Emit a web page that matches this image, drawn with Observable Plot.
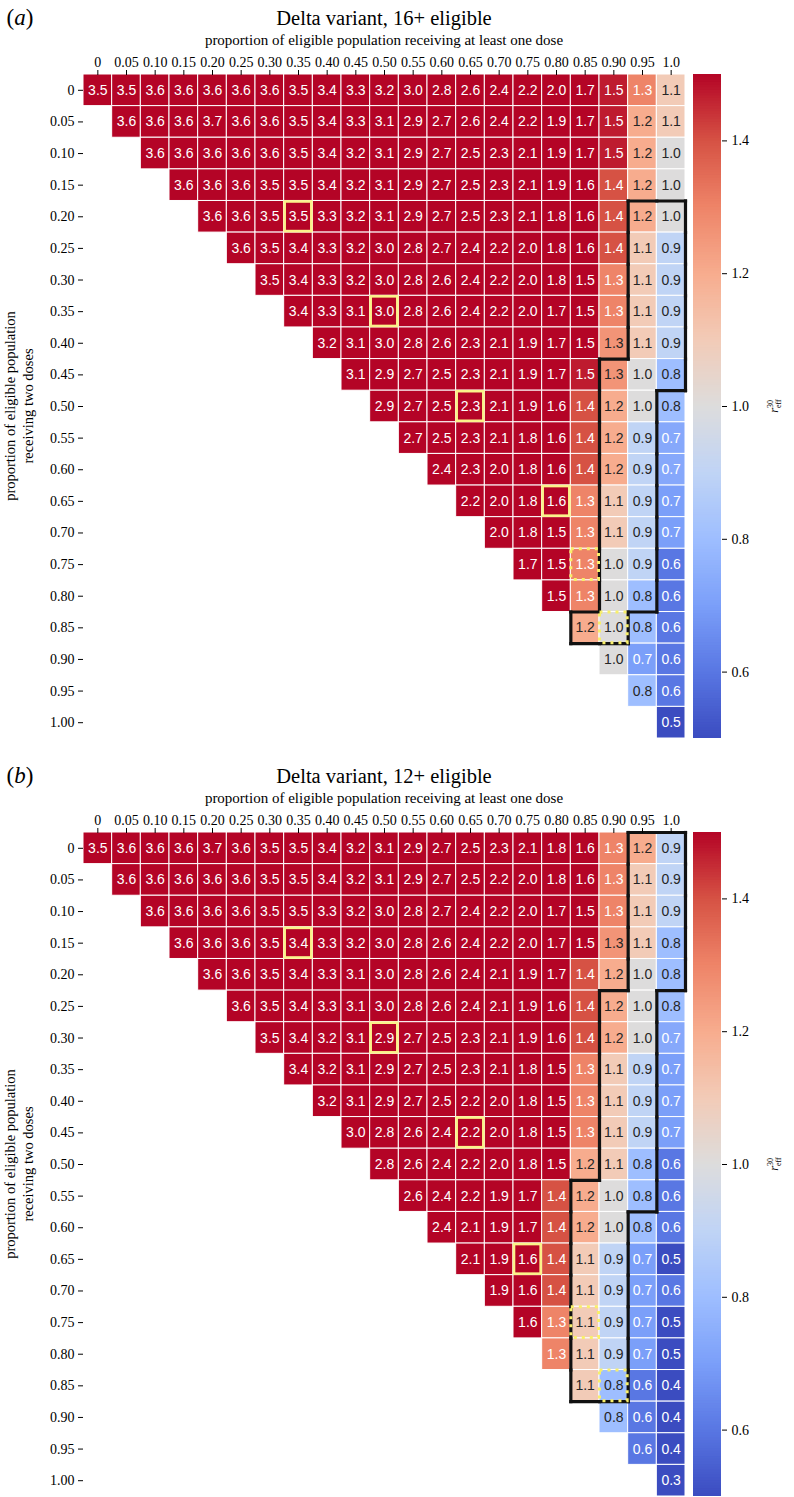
<!DOCTYPE html>
<html><head><meta charset="utf-8">
<script src="https://cdn.jsdelivr.net/npm/d3@7"></script>
<script src="https://cdn.jsdelivr.net/npm/@observablehq/plot@0.6"></script>
<style>
body{margin:0;background:#fff;}
.panel{position:relative;width:794px;height:758px;overflow:visible}
.panel svg{position:absolute;left:0;top:0}
.lbl{position:absolute;font-family:"Liberation Serif",serif;color:#000;white-space:nowrap;transform:translate(-50%,-50%)}
</style></head><body><div id="root"></div><script>
// ---- tick labels ----
const colLabels = ["0","0.05","0.10","0.15","0.20","0.25","0.30","0.35","0.40","0.45","0.50","0.55","0.60","0.65","0.70","0.75","0.80","0.85","0.90","0.95","1.0"];
const rowLabels = ["0","0.05","0.10","0.15","0.20","0.25","0.30","0.35","0.40","0.45","0.50","0.55","0.60","0.65","0.70","0.75","0.80","0.85","0.90","0.95","1.00"];
const cbTicks = [0.6, 0.8, 1.0, 1.2, 1.4];

// ---- panel (a): row i (two doses) starts at column i (one dose); shown rounded to 0.1 ----
const valuesA = [
 [3.5,3.5,3.6,3.6,3.6,3.6,3.6,3.5,3.4,3.3,3.2,3.0,2.8,2.6,2.4,2.2,2.0,1.7,1.47,1.3,1.1],
 [3.6,3.6,3.6,3.7,3.6,3.6,3.5,3.4,3.3,3.1,2.9,2.7,2.6,2.4,2.2,1.9,1.7,1.47,1.2,1.1],
 [3.6,3.6,3.6,3.6,3.6,3.5,3.4,3.2,3.1,2.9,2.7,2.5,2.3,2.1,1.9,1.7,1.47,1.2,1.0],
 [3.6,3.6,3.6,3.5,3.5,3.4,3.2,3.1,2.9,2.7,2.5,2.3,2.1,1.9,1.6,1.4,1.2,1.0],
 [3.6,3.6,3.5,3.5,3.3,3.2,3.1,2.9,2.7,2.5,2.3,2.1,1.8,1.6,1.4,1.2,1.0],
 [3.6,3.5,3.4,3.3,3.2,3.0,2.8,2.7,2.4,2.2,2.0,1.8,1.6,1.4,1.1,0.9],
 [3.5,3.4,3.3,3.2,3.0,2.8,2.6,2.4,2.2,2.0,1.8,1.5,1.3,1.1,0.9],
 [3.4,3.3,3.1,3.0,2.8,2.6,2.4,2.2,2.0,1.7,1.5,1.3,1.1,0.9],
 [3.2,3.1,3.0,2.8,2.6,2.3,2.1,1.9,1.7,1.5,1.26,1.1,0.9],
 [3.1,2.9,2.7,2.5,2.3,2.1,1.9,1.7,1.47,1.26,1.0,0.8],
 [2.9,2.7,2.5,2.3,2.1,1.9,1.6,1.4,1.2,1.0,0.8],
 [2.7,2.5,2.3,2.1,1.8,1.6,1.4,1.2,0.9,0.73],
 [2.4,2.3,2.0,1.8,1.6,1.4,1.2,0.9,0.73],
 [2.2,2.0,1.8,1.6,1.3,1.1,0.9,0.7],
 [2.0,1.8,1.5,1.3,1.1,0.9,0.7],
 [1.7,1.5,1.3,1.0,0.9,0.6],
 [1.5,1.3,1.0,0.8,0.6],
 [1.2,1.0,0.8,0.6],
 [1.0,0.7,0.6],
 [0.8,0.6],
 [0.5]
];
// ---- panel (b) ----
const valuesB = [
 [3.5,3.6,3.6,3.6,3.7,3.6,3.5,3.5,3.4,3.2,3.1,2.9,2.7,2.5,2.3,2.1,1.8,1.6,1.3,1.2,0.9],
 [3.6,3.6,3.6,3.6,3.6,3.5,3.5,3.4,3.2,3.1,2.9,2.7,2.5,2.2,2.0,1.8,1.6,1.3,1.1,0.9],
 [3.6,3.6,3.6,3.6,3.5,3.5,3.3,3.2,3.0,2.8,2.7,2.4,2.2,2.0,1.7,1.5,1.3,1.1,0.9],
 [3.6,3.6,3.6,3.5,3.4,3.3,3.2,3.0,2.8,2.6,2.4,2.2,2.0,1.7,1.5,1.26,1.1,0.8],
 [3.6,3.6,3.5,3.4,3.3,3.1,3.0,2.8,2.6,2.4,2.1,1.9,1.7,1.4,1.2,1.0,0.8],
 [3.6,3.5,3.4,3.3,3.1,3.0,2.8,2.6,2.4,2.1,1.9,1.6,1.4,1.2,1.0,0.8],
 [3.5,3.4,3.2,3.1,2.9,2.7,2.5,2.3,2.1,1.9,1.6,1.4,1.2,1.0,0.73],
 [3.4,3.2,3.1,2.9,2.7,2.5,2.3,2.1,1.8,1.5,1.3,1.1,0.9,0.7],
 [3.2,3.1,2.9,2.7,2.5,2.2,2.0,1.8,1.5,1.3,1.1,0.9,0.7],
 [3.0,2.8,2.6,2.4,2.2,2.0,1.8,1.5,1.3,1.1,0.9,0.7],
 [2.8,2.6,2.4,2.2,2.0,1.8,1.5,1.2,1.1,0.8,0.6],
 [2.6,2.4,2.2,1.9,1.7,1.4,1.2,1.0,0.8,0.6],
 [2.4,2.1,1.9,1.7,1.4,1.2,1.0,0.8,0.6],
 [2.1,1.9,1.6,1.4,1.1,0.9,0.7,0.5],
 [1.9,1.6,1.4,1.1,0.9,0.7,0.6],
 [1.6,1.3,1.1,0.9,0.7,0.5],
 [1.3,1.1,0.9,0.7,0.5],
 [1.1,0.8,0.6,0.4],
 [0.8,0.6,0.4],
 [0.6,0.4],
 [0.3]
];
// ---- highlighted regions: [row, firstCol, lastCol] ----
const outlineA = [[4,19,20],[5,19,20],[6,19,20],[7,19,20],[8,19,20],[9,18,20],[10,18,19],[11,18,19],[12,18,19],[13,18,19],[14,18,19],[15,18,19],[16,18,19],[17,17,18]];
const outlineB = [[0,19,20],[1,19,20],[2,19,20],[3,19,20],[4,19,20],[5,18,19],[6,18,19],[7,18,19],[8,18,19],[9,18,19],[10,18,19],[11,17,19],[12,17,18],[13,17,18],[14,17,18],[15,17,18],[16,17,18],[17,17,18]];
// ---- yellow boxes: [row, col] ----
const solidA = [[4,7],[7,10],[10,13],[13,16]];
const dottedA = [[15,17],[17,18]];
const solidB = [[3,7],[6,10],[9,13],[13,15]];
const dottedB = [[15,17],[17,18]];

// coolwarm colour map
const cwStops = [0.5,0.6,0.7,0.8,0.9,1.0,1.1,1.2,1.3,1.4,1.5];
const cwColors = ["#3b4cc0","#5977e3","#7b9ff9","#9ebeff","#c0d4f5","#dddcdc","#f2cbb7","#f7ac8e","#ee8468","#d65244","#b40426"];
const colorOpts = {type:"linear", domain: cwStops, range: cwColors, clamp: true, interpolate: "rgb"};
const cscale = Plot.scale({color: colorOpts});
function lum(c){const o=d3.rgb(c);const f=x=>{x/=255;return x<=0.03928?x/12.92:Math.pow((x+0.055)/1.055,2.4)};return .2126*f(o.r)+.7152*f(o.g)+.0722*f(o.b);}
const txtColor = v => lum(cscale.apply(v)) > 0.408 ? "#262626" : "#ffffff";

function edges(region){
  const set = new Set();
  region.forEach(([r,a,b])=>{for(let c=a;c<=b;c++) set.add(r+","+c);});
  const out=[];
  for(const k of set){
    const [r,c]=k.split(",").map(Number);
    if(!set.has((r-1)+","+c)) out.push({x1:c-.5,x2:c+.5,y1:r-.5,y2:r-.5});
    if(!set.has((r+1)+","+c)) out.push({x1:c-.5,x2:c+.5,y1:r+.5,y2:r+.5});
    if(!set.has(r+","+(c-1))) out.push({x1:c-.5,x2:c-.5,y1:r-.5,y2:r+.5});
    if(!set.has(r+","+(c+1))) out.push({x1:c+.5,x2:c+.5,y1:r-.5,y2:r+.5});
  }
  return out;
}

const W=794, H=758, MT=74, MB=20, ML=83, MR=109;

function panel(letter, title, values, outline, solid, dotted){
  const div = document.createElement("div");
  div.className="panel";
  const cells=[];
  values.forEach((row,i)=>row.forEach((v,k)=>cells.push({row:i,col:i+k,v})));
  const heat = Plot.plot({
    width:W, height:H, marginTop:MT, marginBottom:MB, marginLeft:ML, marginRight:MR,
    style:{fontFamily:"Liberation Serif", fontSize:"14px", background:"transparent", color:"#000"},
    x:{domain:[-0.5,20.5], axis:null},
    y:{domain:[-0.5,20.5], reverse:true, axis:null},
    color: colorOpts,
    marks:[
      Plot.rect(cells,{x1:d=>d.col-0.5,x2:d=>d.col+0.5,y1:d=>d.row-0.5,y2:d=>d.row+0.5,fill:"v",stroke:"#ffffff",strokeWidth:1}),
      Plot.text(cells,{x:"col",y:"row",text:d=>d.v.toFixed(1),fill:d=>txtColor(d.v),fontFamily:"Liberation Sans",fontSize:14}),
      Plot.link(edges(outline),{x1:"x1",y1:"y1",x2:"x2",y2:"y2",stroke:"#111",strokeWidth:3.2,strokeLinecap:"square"}),
      Plot.rect(solid,{x1:d=>d[1]-0.5,x2:d=>d[1]+0.5,y1:d=>d[0]-0.5,y2:d=>d[0]+0.5,fill:"none",stroke:"#fbf28a",strokeWidth:2.6,inset:1}),
      Plot.rect(dotted,{x1:d=>d[1]-0.5,x2:d=>d[1]+0.5,y1:d=>d[0]-0.5,y2:d=>d[0]+0.5,fill:"none",stroke:"#f8ef6a",strokeWidth:3,strokeDasharray:"3,5",inset:0.5}),
      Plot.axisX({anchor:"top",ticks:d3.range(21),tickFormat:i=>colLabels[i],tickSize:5,tickPadding:3,label:null,fontSize:14}),
      Plot.axisY({anchor:"left",ticks:d3.range(21),tickFormat:i=>rowLabels[i],tickSize:5,tickPadding:4,label:null,fontSize:14})
    ]
  });
  div.appendChild(heat);
  const cb = Plot.plot({
    width:W, height:H, marginTop:MT, marginBottom:MB, marginLeft:693, marginRight:W-721,
    style:{fontFamily:"Liberation Serif", fontSize:"14px", background:"transparent", color:"#000"},
    x:{domain:[0,1], axis:null},
    y:{domain:[0.5,1.5], axis:null},
    color: colorOpts,
    marks:[
      Plot.rect(d3.range(0.5,1.5,0.004),{x1:0,x2:1,y1:d=>d,y2:d=>Math.min(1.5,d+0.006),fill:d=>d+0.002}),
      Plot.axisY({anchor:"right",ticks:cbTicks,tickFormat:d=>d.toFixed(1),tickSize:5,tickPadding:5,label:null,fontSize:14})
    ]
  });
  div.appendChild(cb);
  const add=(html,x,y,css)=>{const s=document.createElement("div");s.className="lbl";s.innerHTML=html;s.style.left=x+"px";s.style.top=y+"px";s.style.cssText+=css||"";div.appendChild(s);};
  add("("+"<i>"+letter+"</i>)",20,18,"font-size:23px;");
  add(title,384,18,"font-size:20.5px;");
  add("proportion of eligible population receiving at least one dose",384,40,"font-size:15px;");
  add("proportion of eligible population<br>receiving two doses",19,406,"font-size:14.5px;text-align:center;line-height:18px;transform:translate(-50%,-50%) rotate(-90deg);");
  add('<i>r</i><span style="display:inline-block;vertical-align:middle;line-height:8px;font-size:8px;text-align:left">30<br>eff</span>',775,406,"font-size:12px;transform:translate(-50%,-50%) rotate(-90deg);");
  return div;
}

const root=document.getElementById("root");
root.appendChild(panel("a","Delta variant, 16+ eligible",valuesA,outlineA,solidA,dottedA));
root.appendChild(panel("b","Delta variant, 12+ eligible",valuesB,outlineB,solidB,dottedB));
</script></body></html>
